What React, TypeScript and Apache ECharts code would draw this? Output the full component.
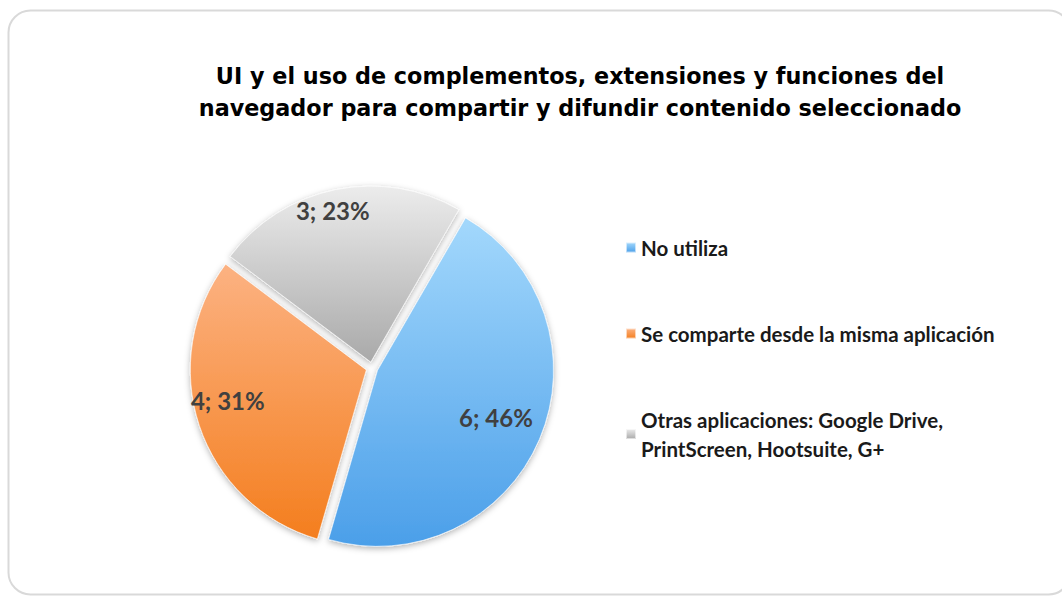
import React, { useEffect, useRef } from "react";
import * as echarts from "echarts";

const titleText = "UI y el uso de complementos, extensiones y funciones del\nnavegador para compartir y difundir contenido seleccionado";
const categories = [
  "No utiliza",
  "Se comparte desde la misma aplicación",
  "Otras aplicaciones: Google Drive,\nPrintScreen, Hootsuite, G+",
];
const values = [6, 4, 3];
const percents = [46, 31, 23];
const gradients = [
  ["#a3d8fc", "#4b9fe9"],
  ["#fcb282", "#f47e1e"],
  ["#ececec", "#a9a9a9"],
];
const labelOffsets = [
  [-6, 0],
  [8, -5],
  [0, 0],
];

export default function App() {
  const ref = useRef<HTMLDivElement>(null);
  useEffect(() => {
    document.body.style.margin = "0";
    const chart = echarts.init(ref.current!, null, { renderer: "svg" });
    const mainData = categories.map((name, i) => ({
      name,
      value: values[i],
      selected: true,
      itemStyle: {
        color: new echarts.graphic.LinearGradient(0, 0, 0, 1, [
          { offset: 0, color: gradients[i][0] },
          { offset: 1, color: gradients[i][1] },
        ]),
      },
    }));
    const labelData = categories.map((name, i) => ({
      name,
      value: values[i],
      label: { formatter: `${values[i]}; ${percents[i]}%`, offset: labelOffsets[i] },
    }));
    chart.setOption({
      animation: false,
      backgroundColor: "#ffffff",
      title: {
        text: titleText,
        left: 575,
        top: 55,
        textAlign: "center",
        textStyle: {
          fontFamily: "DejaVu Sans",
          fontWeight: "bold",
          fontSize: 22.3,
          lineHeight: 32,
          color: "#000000",
        },
      },
      legend: {
        orient: "vertical",
        left: 625,
        top: 233,
        padding: 0,
        icon: "rect",
        itemWidth: 10,
        itemHeight: 10,
        itemGap: 57,
        selectedMode: false,
        data: categories,
        textStyle: {
          fontFamily: "Lato",
          fontWeight: "bold",
          fontSize: 20.5,
          lineHeight: 29,
          color: "#1a1a1a",
        },
      },
      graphic: [
        {
          type: "rect",
          shape: { x: 8.5, y: 10.5, width: 1062, height: 584, r: 22 },
          style: { fill: "none", stroke: "#d9d9d9", lineWidth: 2 },
          silent: true,
          z: -10,
        },
      ],
      series: [
        {
          type: "pie",
          center: [372, 368],
          radius: [0, 176],
          startAngle: 60,
          clockwise: true,
          selectedMode: "multiple",
          selectedOffset: 6,
          label: { show: false },
          labelLine: { show: false },
          emphasis: { disabled: true },
          itemStyle: {
            borderColor: "rgba(255,255,255,0.6)",
            borderWidth: 1,
            shadowBlur: 6,
            shadowOffsetY: 2,
            shadowColor: "rgba(0,0,0,0.3)",
          },
          data: mainData,
        },
        {
          type: "pie",
          center: [363, 358],
          radius: [120, 176],
          startAngle: 60,
          clockwise: true,
          silent: true,
          itemStyle: { color: "rgba(0,0,0,0)" },
          label: {
            show: true,
            position: "inside",
            fontFamily: "Lato",
            fontWeight: "bold",
            fontSize: 24,
            color: "#404040",
          },
          labelLine: { show: false },
          emphasis: { disabled: true },
          data: labelData,
        },
      ],
    });
    return () => chart.dispose();
  }, []);
  return <div ref={ref} style={{ width: 1062, height: 597 }} />;
}
